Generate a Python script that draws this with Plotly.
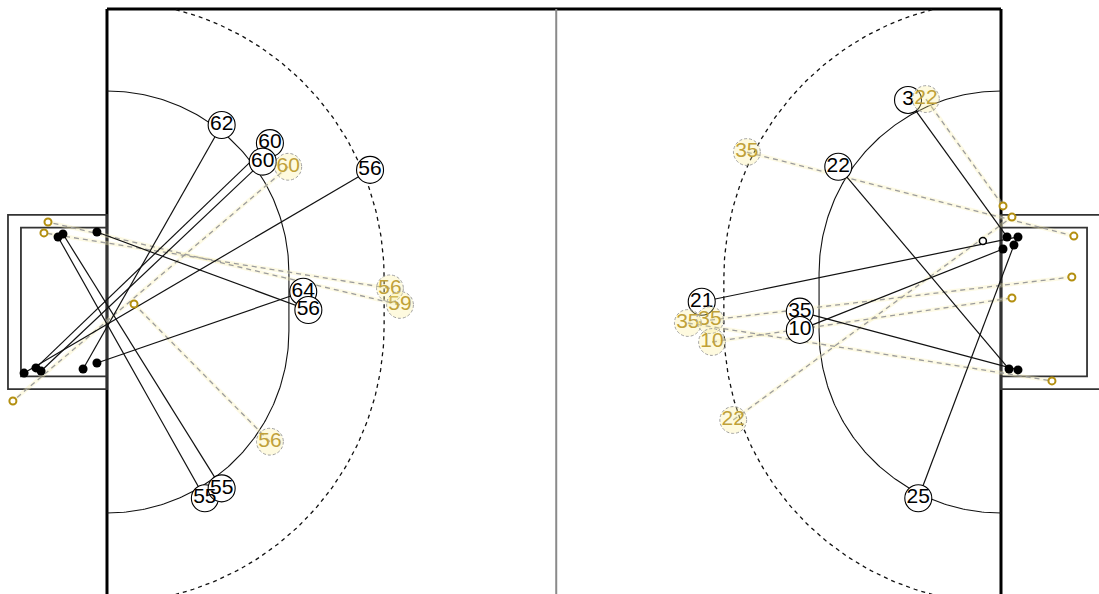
import numpy as np
import plotly.graph_objects as go

# ---------------- data (court units: goal line to goal line = 40) ----------------
left_black_labels = ["62", "60", "60", "56", "64", "56", "55", "55"]
left_black_x = [5.13, 7.29, 6.97, 11.77, 8.78, 9.01, 4.38, 5.13]
left_black_y = [7.92, 7.11, 6.28, 5.91, 0.46, -0.36, -8.78, -8.34]
left_black_goal_x = [-1.07, -3.18, -2.95, -3.71, -0.45, -0.45, -2.19, -1.97]
left_black_goal_y = [-3.00, -2.95, -3.09, -3.18, -2.73, 3.13, 2.91, 3.04]

left_gold_labels = ["60", "56", "59", "56"]
left_gold_x = [8.11, 12.66, 13.11, 7.29]
left_gold_y = [6.05, 0.61, -0.13, -6.25]
left_gold_goal_x = [-4.21, -2.82, -2.64, 1.21]
left_gold_goal_y = [-4.43, 3.09, 3.58, -0.09]

right_black_labels = ["3", "22", "21", "35", "10", "25"]
right_black_x = [35.84, 32.72, 26.61, 31.00, 31.00, 36.30]
right_black_y = [9.04, 6.05, 0.01, -0.43, -1.25, -8.78]
right_black_goal_x = [40.27, 40.36, 40.76, 40.76, 40.09, 40.58]
right_black_goal_y = [2.91, -3.00, 2.91, -3.04, 2.37, 2.55]
right_open_x = [39.19]
right_open_y = [2.73]

right_gold_labels = ["22", "35", "35", "35", "10", "22"]
right_gold_x = [36.64, 28.63, 25.99, 26.98, 27.07, 28.02]
right_gold_y = [9.08, 6.71, -0.94, -0.81, -1.79, -5.28]
right_gold_goal_x = [40.09, 43.26, 42.28, 43.17, 40.49, 40.49]
right_gold_goal_y = [4.30, 2.95, -3.53, 1.12, 0.18, 3.80]

# ---------------- court geometry ----------------
COURT_LEN = 40.0
CENTER_X = 20.1
SIDELINE_Y = 13.11
POST_H6 = 1.3
POST_H9 = 1.07
R6 = 8.14
R9 = 12.4
GOAL_OUT_W, GOAL_OUT_H = 4.43, 3.90
GOAL_IN_W, GOAL_IN_H = 3.85, 3.33

X_RANGE = [-4.787, 44.385]
Y_RANGE = [-13.065, 13.512]

GOLD_TXT = "#a6800f"
GOLD_MK = "#b38f10"
FONT = "Liberation Sans, Arial"


def area_line(r, h, x0, d, clip=None):
    t1 = np.linspace(np.pi / 2, 0, 120)
    t2 = np.linspace(0, -np.pi / 2, 120)
    xs = np.concatenate([x0 + d * r * np.cos(t1), x0 + d * r * np.cos(t2)])
    ys = np.concatenate([h + r * np.sin(t1), -h + r * np.sin(t2)])
    if clip is not None:
        keep = np.abs(ys) <= clip
        xs, ys = xs[keep], ys[keep]
    return xs, ys


def segs(x1, y1, x2, y2):
    xs, ys = [], []
    for a, b, c, e in zip(x1, y1, x2, y2):
        xs += [a, c, None]
        ys += [b, e, None]
    return xs, ys


fig = go.Figure()

# area lines
for x0, d in [(0.0, 1), (COURT_LEN, -1)]:
    xs, ys = area_line(R6, POST_H6, x0, d)
    fig.add_trace(go.Scatter(x=xs, y=ys, mode="lines",
                             line=dict(color="#111", width=1.1), hoverinfo="skip"))
    xs, ys = area_line(R9, POST_H9, x0, d, clip=SIDELINE_Y)
    fig.add_trace(go.Scatter(x=xs, y=ys, mode="lines",
                             line=dict(color="#111", width=1.3, dash="4px,4px"), hoverinfo="skip"))

# gold (dashed) shot lines
gx1 = left_gold_x + right_gold_x
gy1 = left_gold_y + right_gold_y
gx2 = left_gold_goal_x + right_gold_goal_x
gy2 = left_gold_goal_y + right_gold_goal_y
sx, sy = segs(gx1, gy1, gx2, gy2)
fig.add_trace(go.Scatter(x=sx, y=sy, mode="lines",
                         line=dict(color="rgba(250,242,180,0.35)", width=4), hoverinfo="skip"))
fig.add_trace(go.Scatter(x=sx, y=sy, mode="lines",
                         line=dict(color="#9c9c9c", width=1.3, dash="5px,4px"), hoverinfo="skip"))

# black shot lines
bx1 = left_black_x + right_black_x
by1 = left_black_y + right_black_y
bx2 = left_black_goal_x + right_black_goal_x
by2 = left_black_goal_y + right_black_goal_y
sx, sy = segs(bx1, by1, bx2, by2)
fig.add_trace(go.Scatter(x=sx, y=sy, mode="lines",
                         line=dict(color="#111", width=1.2), hoverinfo="skip"))

# goal end points
fig.add_trace(go.Scatter(x=gx2, y=gy2, mode="markers",
                         marker=dict(size=7, color="white", line=dict(color=GOLD_MK, width=2)),
                         hoverinfo="skip"))
fig.add_trace(go.Scatter(x=bx2, y=by2, mode="markers",
                         marker=dict(size=9, color="black", line=dict(width=0)), hoverinfo="skip"))
fig.add_trace(go.Scatter(x=right_open_x, y=right_open_y, mode="markers",
                         marker=dict(size=7, color="white", line=dict(color="black", width=1.5)),
                         hoverinfo="skip"))

# black shot circles + labels
fig.add_trace(go.Scatter(x=bx1, y=by1, mode="markers+text",
                         text=left_black_labels + right_black_labels,
                         textposition="middle center",
                         textfont=dict(family=FONT, size=21, color="black"),
                         marker=dict(size=27, color="white", line=dict(color="black", width=1.1)),
                         hoverinfo="skip"))

# gold shot labels
fig.add_trace(go.Scatter(x=gx1, y=gy1, mode="text",
                         text=left_gold_labels + right_gold_labels,
                         textposition="middle center",
                         textfont=dict(family=FONT, size=21, color=GOLD_TXT),
                         hoverinfo="skip"))

shapes = []
# gold dashed circles
rc = 0.6
for x, y in zip(gx1, gy1):
    shapes.append(dict(type="circle", xref="x", yref="y", x0=x - rc, x1=x + rc, y0=y - rc, y1=y + rc,
                       line=dict(color="#a0a0a0", width=1, dash="3px,2px"),
                       fillcolor="rgba(252,240,150,0.30)", layer="above"))

# court lines
shapes += [
    dict(type="line", xref="x", yref="y", x0=0, x1=COURT_LEN, y0=SIDELINE_Y, y1=SIDELINE_Y,
         line=dict(color="black", width=3), layer="below"),
    dict(type="line", xref="x", yref="y", x0=0, x1=0, y0=SIDELINE_Y, y1=-20,
         line=dict(color="black", width=3), layer="below"),
    dict(type="line", xref="x", yref="y", x0=COURT_LEN, x1=COURT_LEN, y0=SIDELINE_Y, y1=-20,
         line=dict(color="black", width=3), layer="below"),
    dict(type="line", xref="x", yref="y", x0=CENTER_X, x1=CENTER_X, y0=SIDELINE_Y, y1=-20,
         line=dict(color="#8a8a8a", width=2), layer="below"),
]
for x0, d in [(0.0, -1), (COURT_LEN, 1)]:
    shapes.append(dict(type="rect", xref="x", yref="y", x0=x0, x1=x0 + d * GOAL_OUT_W,
                       y0=-GOAL_OUT_H, y1=GOAL_OUT_H, line=dict(color="#333", width=1.8), layer="below"))
    shapes.append(dict(type="rect", xref="x", yref="y", x0=x0, x1=x0 + d * GOAL_IN_W,
                       y0=-GOAL_IN_H, y1=GOAL_IN_H, line=dict(color="#333", width=1.8), layer="below"))

fig.update_layout(
    width=1099, height=594,
    margin=dict(l=0, r=0, t=0, b=0),
    paper_bgcolor="white", plot_bgcolor="white",
    showlegend=False,
    shapes=shapes,
    xaxis=dict(range=X_RANGE, visible=False, fixedrange=True),
    yaxis=dict(range=Y_RANGE, visible=False, fixedrange=True),
)

fig.write_html("out.html", config={"displayModeBar": False},
               post_script="document.body.style.margin='0';document.body.style.overflow='hidden';")
